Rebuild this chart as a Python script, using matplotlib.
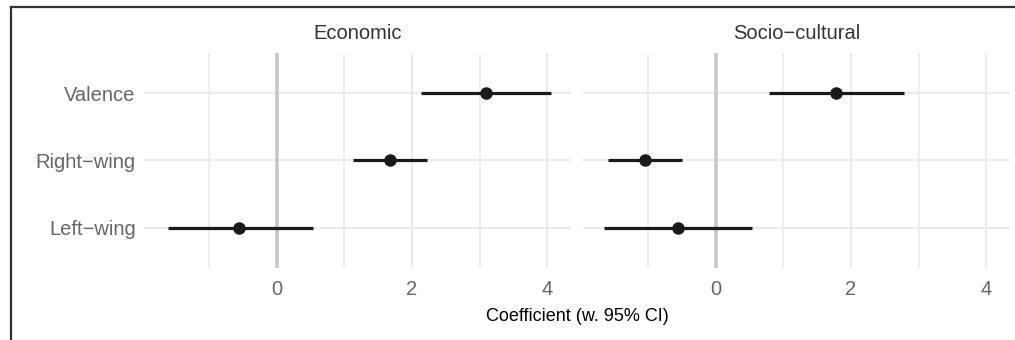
import numpy as np
import matplotlib.pyplot as plt
from matplotlib.lines import Line2D

# Coefficient plot, two facets
plt.rcParams['font.family'] = ['Liberation Sans', 'DejaVu Sans']

terms = ['Valence', 'Right\u2212wing', 'Left\u2212wing']
panels = ['Economic', 'Socio\u2212cultural']

# estimates and 95% CI (rows follow terms)
econ_est = [3.10, 1.68, -0.55]
econ_lo = [2.14, 1.13, -1.61]
econ_hi = [4.06, 2.22, 0.54]

soc_est = [1.78, -1.04, -0.56]
soc_lo = [0.79, -1.59, -1.65]
soc_hi = [2.78, -0.50, 0.54]

est = [econ_est, soc_est]
lo = [econ_lo, soc_lo]
hi = [econ_hi, soc_hi]

fig = plt.figure(figsize=(10.15, 3.4), dpi=100)
ax1 = fig.add_axes([0.1419, 0.2118, 0.4207, 0.6323])
ax2 = fig.add_axes([0.5744, 0.2118, 0.4207, 0.6323])
axes = [ax1, ax2]

ypos = np.arange(len(terms))[::-1] + 1

for i, ax in enumerate(axes):
    ax.set_xlim(-1.96, 4.35)
    ax.set_ylim(0.4, 3.6)
    ax.set_xticks([0, 2, 4])
    ax.set_xticks([-1, 1, 3], minor=True)
    ax.set_yticks(ypos)
    ax.set_axisbelow(True)
    ax.grid(True, which='major', color='#ebebeb', lw=1.5)
    ax.grid(True, which='minor', axis='x', color='#ebebeb', lw=1.2)
    for s in ax.spines.values():
        s.set_visible(False)
    ax.tick_params(which='both', length=0, labelsize=14.5, labelcolor='#666666')
    ax.tick_params(axis='x', pad=9)
    ax.tick_params(axis='y', pad=6)
    ax.axvline(0, color='#c8c8c8', lw=2.6, zorder=2.5)
    ax.hlines(ypos, lo[i], hi[i], color='#1a1a1a', lw=2.3, zorder=3)
    ax.plot(est[i], ypos, 'o', color='#1a1a1a', ms=8, zorder=4)
    ax.set_title(panels[i], fontsize=14.5, color='#333333', pad=10)

ax1.set_yticklabels(terms)
ax2.set_yticklabels([])
fig.text(0.5685, 0.07, 'Coefficient (w. 95% CI)', ha='center', va='center',
         fontsize=13, color='black')

# outer frame (cropped screenshot border)
fig.add_artist(Line2D([10.5 / 1015, 10.5 / 1015], [0, 1 - 6.5 / 340],
                      transform=fig.transFigure, color='#333333', lw=1.6))
fig.add_artist(Line2D([10.5 / 1015, 1], [1 - 6.5 / 340, 1 - 6.5 / 340],
                      transform=fig.transFigure, color='#333333', lw=1.6))

fig.savefig('out.png', dpi=100)
